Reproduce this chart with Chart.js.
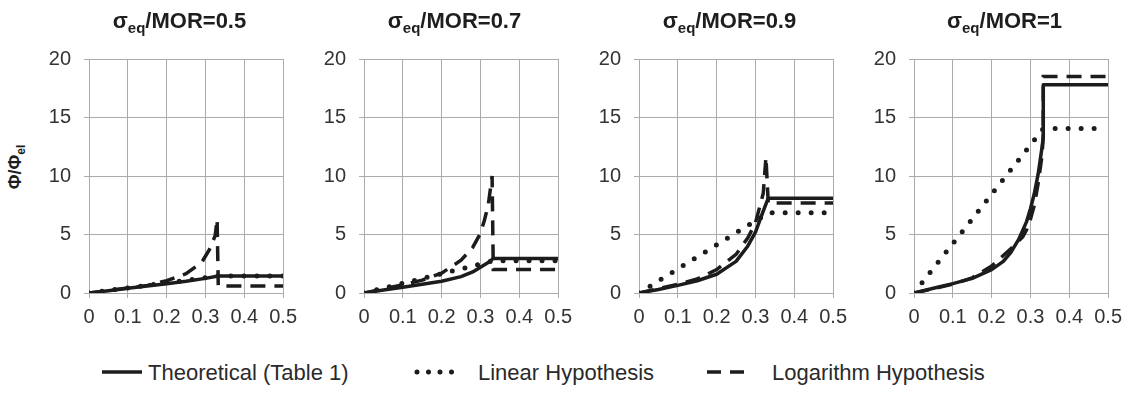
<!DOCTYPE html>
<html>
<head>
<meta charset="utf-8">
<script src="https://cdn.jsdelivr.net/npm/chart.js@4.4.1/dist/chart.umd.min.js"></script>
<style>
  html, body { margin:0; padding:0; background:#ffffff; }
  body { width:1141px; height:394px; position:relative; overflow:hidden; font-family:"Liberation Sans", Arial, sans-serif; }
  canvas { position:absolute; }
  .ttl { position:absolute; top:9px; width:240px; text-align:center; font-weight:bold; font-size:22px; color:#1e1e1e; line-height:24px; white-space:nowrap; }
  .ttl .sub { font-size:15px; position:relative; top:5px; }
  .ytl { position:absolute; left:16px; top:167px; transform:translate(-50%,-50%) rotate(-90deg); font-weight:bold; font-size:18px; color:#1e1e1e; white-space:nowrap; line-height:20px; }
  .ytl .sub { font-size:12px; position:relative; top:4px; }
  .leg { position:absolute; top:360px; font-size:22px; color:#2a2a2a; line-height:26px; white-space:nowrap; }
  svg.key { position:absolute; }
</style>
</head>
<body>
<div class="ytl">Φ/Φ<span class="sub">el</span></div>
<div id="root"></div>
<script>
// ---------- data ----------
const panelRatios = ['0.5', '0.7', '0.9', '1'];
const xTickLabels = ['0', '0.1', '0.2', '0.3', '0.4', '0.5'];
const yTickLabels = ['0', '5', '10', '15', '20'];
const seriesNames = ['Theoretical (Table 1)', 'Linear Hypothesis', 'Logarithm Hypothesis'];

// sigma_eq/MOR = 0.5
const theoX_05 = [0, 0.05, 0.1, 0.15, 0.2, 0.25, 0.3, 0.333, 0.5];
const theoY_05 = [0, 0.2, 0.4, 0.6, 0.8, 1.0, 1.25, 1.45, 1.45];
const linX_05  = [0, 0.333, 0.5];
const linY_05  = [0, 1.45, 1.45];
const logX_05  = [0, 0.1, 0.15, 0.2, 0.25, 0.29, 0.31, 0.325, 0.33, 0.333, 0.5];
const logY_05  = [0, 0.42, 0.65, 1.05, 1.65, 2.6, 3.7, 4.9, 6.3, 0.6, 0.6];

// sigma_eq/MOR = 0.7
const theoX_07 = [0, 0.05, 0.1, 0.15, 0.2, 0.25, 0.28, 0.3, 0.32, 0.333, 0.5];
const theoY_07 = [0, 0.25, 0.5, 0.75, 1.0, 1.4, 1.8, 2.2, 2.6, 2.95, 2.95];
const linX_07  = [0, 0.333, 0.5];
const linY_07  = [0, 2.75, 2.75];
const logX_07  = [0, 0.1, 0.15, 0.2, 0.25, 0.28, 0.3, 0.31, 0.32, 0.33, 0.333, 0.5];
const logY_07  = [0, 0.7, 1.1, 1.7, 2.8, 3.9, 5.1, 6.2, 7.5, 10.0, 2.0, 2.0];

// sigma_eq/MOR = 0.9
const theoX_09 = [0, 0.05, 0.1, 0.15, 0.2, 0.25, 0.28, 0.3, 0.32, 0.333, 0.5];
const theoY_09 = [0, 0.3, 0.65, 1.05, 1.6, 2.7, 4.0, 5.2, 7.0, 8.1, 8.1];
const linX_09  = [0, 0.333, 0.5];
const linY_09  = [0, 6.85, 6.85];
const logX_09  = [0, 0.1, 0.15, 0.2, 0.25, 0.28, 0.3, 0.32, 0.327, 0.333, 0.5];
const logY_09  = [0, 0.75, 1.2, 2.0, 3.3, 4.7, 6.0, 8.5, 11.6, 7.7, 7.7];

// sigma_eq/MOR = 1
const theoX_10 = [0, 0.05, 0.1, 0.15, 0.2, 0.23, 0.25, 0.27, 0.29, 0.3, 0.31, 0.32, 0.33, 0.333, 0.333, 0.5];
const theoY_10 = [0, 0.4, 0.8, 1.25, 2.0, 2.7, 3.5, 4.6, 6.1, 7.2, 8.5, 10.2, 12.5, 13.3, 17.8, 17.8];
const linX_10  = [0, 0.333, 0.48];
const linY_10  = [0, 14.05, 14.05];
const logX_10  = [0, 0.1, 0.15, 0.2, 0.25, 0.28, 0.29, 0.3, 0.31, 0.32, 0.33, 0.333, 0.333, 0.5];
const logY_10  = [0, 0.75, 1.3, 2.3, 3.8, 4.8, 5.4, 6.3, 7.5, 9.4, 11.8, 13.5, 18.5, 18.5];

const panels = [
  { theoX: theoX_05, theoY: theoY_05, linX: linX_05, linY: linY_05, logX: logX_05, logY: logY_05 },
  { theoX: theoX_07, theoY: theoY_07, linX: linX_07, linY: linY_07, logX: logX_07, logY: logY_07 },
  { theoX: theoX_09, theoY: theoY_09, linX: linX_09, linY: linY_09, logX: logX_09, logY: logY_09 },
  { theoX: theoX_10, theoY: theoY_10, linX: linX_10, linY: linY_10, logX: logX_10, logY: logY_10 }
];

// ---------- layout / style ----------
const PLOT_LEFT0 = 89, PLOT_STEP = 275, PLOT_W = 201;
const CANVAS_TOP = 34, CANVAS_H = 300, YAXIS_W = 60, XAXIS_H = 41, PAD_TOP = 10, PAD_RIGHT = 14;
const GRID = '#ababab';
const TICK = '#333333';
const INK = '#1c1c1c';
const FONT = { family: '"Liberation Sans", Arial, sans-serif', size: 20 };

function zip(xs, ys) { return xs.map((x, i) => ({ x: x, y: ys[i] })); }

const root = document.getElementById('root');
panels.forEach((p, i) => {
  const plotLeft = PLOT_LEFT0 + PLOT_STEP * i;
  const cv = document.createElement('canvas');
  const cw = YAXIS_W + PLOT_W + PAD_RIGHT;
  cv.width = cw; cv.height = CANVAS_H;
  cv.style.left = (plotLeft - YAXIS_W) + 'px';
  cv.style.top = CANVAS_TOP + 'px';
  cv.style.width = cw + 'px'; cv.style.height = CANVAS_H + 'px';
  root.appendChild(cv);

  const t = document.createElement('div');
  t.className = 'ttl';
  t.style.left = (plotLeft + PLOT_W / 2 - 10 - 120) + 'px';
  t.innerHTML = 'σ<span class="sub">eq</span>/MOR=' + panelRatios[i];
  root.appendChild(t);

  new Chart(cv, {
    type: 'line',
    data: {
      datasets: [
        { label: seriesNames[0], data: zip(p.theoX, p.theoY), borderColor: INK, borderWidth: 3.5, pointRadius: 0, tension: 0, borderJoinStyle: 'round', order: 1 },
        { label: seriesNames[1], data: zip(p.linX, p.linY), borderColor: INK, borderWidth: 5, borderDash: [0, 13], borderCapStyle: 'round', pointRadius: 0, tension: 0, order: 2 },
        { label: seriesNames[2], data: zip(p.logX, p.logY), borderColor: INK, borderWidth: 3.5, borderDash: [15, 9], borderCapStyle: 'butt', pointRadius: 0, tension: 0, order: 3 }
      ]
    },
    options: {
      responsive: false,
      animation: false,
      devicePixelRatio: 1,
      layout: { padding: { top: PAD_TOP, right: PAD_RIGHT, left: 0, bottom: 0 } },
      plugins: { legend: { display: false }, tooltip: { enabled: false }, title: { display: false } },
      scales: {
        x: {
          type: 'linear', min: 0, max: 0.5,
          ticks: { stepSize: 0.1, color: TICK, font: FONT, padding: 7, maxRotation: 0, autoSkip: false,
                   callback: (v, idx) => xTickLabels[idx] },
          grid: { color: GRID, lineWidth: 1, tickLength: 5, tickColor: GRID },
          border: { color: GRID, width: 1 },
          afterFit: (s) => { s.height = XAXIS_H; }
        },
        y: {
          type: 'linear', min: 0, max: 20,
          ticks: { stepSize: 5, color: TICK, font: FONT, padding: 13,
                   callback: (v, idx) => yTickLabels[idx] },
          grid: { color: GRID, lineWidth: 1, tickLength: 5, tickColor: GRID },
          border: { color: GRID, width: 1 },
          afterFit: (s) => { s.width = YAXIS_W; }
        }
      }
    }
  });
});

// ---------- legend ----------
const legendKeys = [
  { x1: 102, x2: 142, textX: 148, dash: null, width: 3.5, cap: 'butt' },
  { x1: 417, x2: 463, textX: 478, dash: '0 11.5', width: 5, cap: 'round' },
  { x1: 707, x2: 744, textX: 772, dash: '14 9', width: 3.5, cap: 'butt' }
];
legendKeys.forEach((k, i) => {
  const svg = document.createElementNS('http://www.w3.org/2000/svg', 'svg');
  svg.setAttribute('class', 'key');
  svg.setAttribute('width', 60); svg.setAttribute('height', 12);
  svg.style.left = (k.x1 - 4) + 'px'; svg.style.top = (372 - 6) + 'px';
  const ln = document.createElementNS('http://www.w3.org/2000/svg', 'line');
  ln.setAttribute('x1', 4); ln.setAttribute('x2', k.x2 - k.x1 + 4);
  ln.setAttribute('y1', 6); ln.setAttribute('y2', 6);
  ln.setAttribute('stroke', INK); ln.setAttribute('stroke-width', k.width);
  ln.setAttribute('stroke-linecap', k.cap);
  if (k.dash) ln.setAttribute('stroke-dasharray', k.dash);
  svg.appendChild(ln);
  root.appendChild(svg);
  const tx = document.createElement('div');
  tx.className = 'leg';
  tx.style.left = k.textX + 'px';
  tx.textContent = seriesNames[i];
  root.appendChild(tx);
});
</script>
</body>
</html>
